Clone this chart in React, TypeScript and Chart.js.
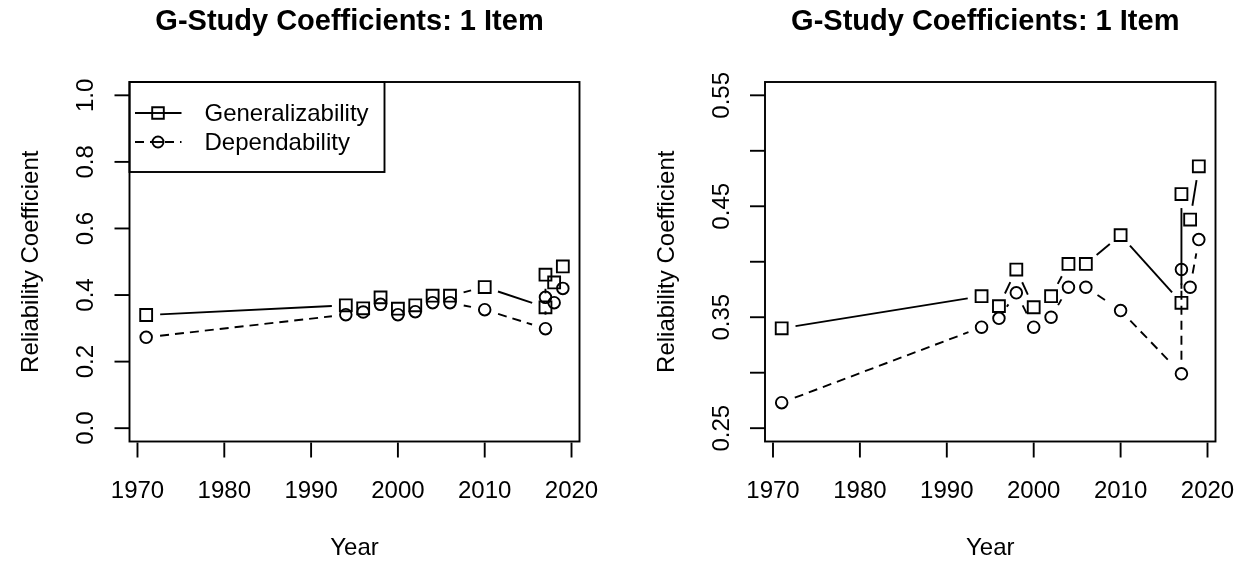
import React, { useEffect, useRef } from "react";
import { Chart, registerables } from "chart.js";

Chart.register(...registerables);

// ---- Data ----
const years = [1971, 1994, 1996, 1998, 2000, 2002, 2004, 2006, 2010, 2017, 2017, 2018, 2019];
const generalizability = [0.34, 0.369, 0.36, 0.393, 0.359, 0.369, 0.398, 0.398, 0.424, 0.363, 0.461, 0.438, 0.486];
const dependability = [0.273, 0.341, 0.349, 0.372, 0.341, 0.35, 0.377, 0.377, 0.356, 0.299, 0.393, 0.377, 0.42];

const seriesNames = ["Generalizability", "Dependability"];
const chartTitle = "G-Study Coefficients: 1 Item";
const xTitle = "Year";
const yTitle = "Reliability Coefficient";

const xTicks = [1970, 1980, 1990, 2000, 2010, 2020];
const xTickLabels = ["1970", "1980", "1990", "2000", "2010", "2020"];
const xLimits = [1969.08, 2020.92];

const leftYTicks = [0, 0.2, 0.4, 0.6, 0.8, 1.0];
const leftYTickLabels = ["0.0", "0.2", "0.4", "0.6", "0.8", "1.0"];
const leftYLimits = [-0.04, 1.04];

const rightYTicks = [0.25, 0.3, 0.35, 0.4, 0.45, 0.5, 0.55];
const rightYTickLabels = ["0.25", "", "0.35", "", "0.45", "", "0.55"];
const rightYLimits = [0.238, 0.562];

// ---- Styling ----
const FONT = '"Liberation Sans", Arial, Helvetica, sans-serif';
const LW = 1.9;
const GAP = 14;
const DASHES = [[], [9, 6]];
const LABEL_PX = 24;

type PanelCfg = {
  yTicks: number[];
  yTickLabels: string[];
  yLimits: number[];
  legend: boolean;
  pad: { left: number; right: number; top: number; bottom: number };
};

function makePlugin(cfg: PanelCfg) {
  return {
    id: "rbase",
    beforeDatasetsDraw(chart: any) {
      const ctx = chart.ctx;
      chart.data.datasets.forEach((_ds: any, i: number) => {
        const pts = chart.getDatasetMeta(i).data;
        ctx.save();
        ctx.strokeStyle = "#000";
        ctx.lineWidth = LW;
        ctx.setLineDash(DASHES[i]);
        for (let j = 0; j < pts.length - 1; j++) {
          const a = pts[j];
          const b = pts[j + 1];
          const dx = b.x - a.x;
          const dy = b.y - a.y;
          const L = Math.hypot(dx, dy);
          if (L <= 2 * GAP) continue;
          const ux = dx / L;
          const uy = dy / L;
          ctx.beginPath();
          ctx.moveTo(a.x + ux * GAP, a.y + uy * GAP);
          ctx.lineTo(b.x - ux * GAP, b.y - uy * GAP);
          ctx.stroke();
        }
        ctx.restore();
      });
    },
    afterDraw(chart: any) {
      const ctx = chart.ctx;
      const area = chart.chartArea;
      const xs = chart.scales.x;
      const ys = chart.scales.y;
      ctx.save();
      ctx.strokeStyle = "#000";
      ctx.fillStyle = "#000";
      ctx.lineWidth = LW;
      ctx.setLineDash([]);
      // box
      ctx.strokeRect(area.left, area.top, area.right - area.left, area.bottom - area.top);
      // x axis
      ctx.font = `${LABEL_PX}px ${FONT}`;
      ctx.textAlign = "center";
      ctx.textBaseline = "middle";
      xTicks.forEach((v, i) => {
        const px = xs.getPixelForValue(v);
        ctx.beginPath();
        ctx.moveTo(px, area.bottom + 1);
        ctx.lineTo(px, area.bottom + 16);
        ctx.stroke();
        ctx.fillText(xTickLabels[i], px, area.bottom + 50);
      });
      ctx.fillText(xTitle, (area.left + area.right) / 2, area.bottom + 107);
      // y axis
      cfg.yTicks.forEach((v, i) => {
        const py = ys.getPixelForValue(v);
        ctx.beginPath();
        ctx.moveTo(area.left, py);
        ctx.lineTo(area.left - 15, py);
        ctx.stroke();
        const lab = cfg.yTickLabels[i];
        if (lab) {
          ctx.save();
          ctx.translate(area.left - 43, py);
          ctx.rotate(-Math.PI / 2);
          ctx.fillText(lab, 0, 0);
          ctx.restore();
        }
      });
      ctx.save();
      ctx.translate(area.left - 98, (area.top + area.bottom) / 2);
      ctx.rotate(-Math.PI / 2);
      ctx.fillText(yTitle, 0, 0);
      ctx.restore();
      // title
      ctx.font = `bold 29px ${FONT}`;
      ctx.fillText(chartTitle, (area.left + area.right) / 2 - 5, 22);
      // legend
      if (cfg.legend) {
        const lx = area.left;
        const ly = area.top;
        ctx.strokeRect(lx, ly, 255, 90);
        ctx.font = `${LABEL_PX}px ${FONT}`;
        ctx.textAlign = "left";
        const rows = [31, 60];
        rows.forEach((ry, i) => {
          const y = ly + ry;
          ctx.save();
          ctx.setLineDash(DASHES[i]);
          ctx.beginPath();
          ctx.moveTo(lx + 5.5, y);
          ctx.lineTo(lx + 52, y);
          ctx.stroke();
          ctx.restore();
          const cx = lx + 28.5;
          ctx.beginPath();
          if (i === 0) {
            ctx.rect(cx - 5.8, y - 5.8, 11.6, 11.6);
          } else {
            ctx.arc(cx, y, 5.5, 0, Math.PI * 2);
          }
          ctx.fillStyle = "#fff";
          ctx.fill();
          ctx.stroke();
          ctx.beginPath();
          ctx.moveTo(cx - 5.6, y);
          ctx.lineTo(cx + 5.6, y);
          ctx.stroke();
          ctx.fillStyle = "#000";
          ctx.fillText(seriesNames[i], lx + 75, y + 1);
        });
      }
      ctx.restore();
    },
  };
}

function Panel({ cfg, left }: { cfg: PanelCfg; left: number }) {
  const ref = useRef<HTMLCanvasElement>(null);
  useEffect(() => {
    if (!ref.current) return;
    const chart = new Chart(ref.current, {
      type: "scatter",
      data: {
        datasets: [
          {
            label: seriesNames[0],
            data: years.map((yr, i) => ({ x: yr, y: generalizability[i] })),
            pointStyle: "rect",
            pointRadius: 8.4,
            pointBorderWidth: LW,
            pointBorderColor: "#000",
            pointBackgroundColor: "rgba(0,0,0,0)",
            showLine: false,
          },
          {
            label: seriesNames[1],
            data: years.map((yr, i) => ({ x: yr, y: dependability[i] })),
            pointStyle: "circle",
            pointRadius: 5.8,
            pointBorderWidth: LW,
            pointBorderColor: "#000",
            pointBackgroundColor: "rgba(0,0,0,0)",
            showLine: false,
          },
        ],
      },
      options: {
        animation: false,
        responsive: false,
        layout: { padding: cfg.pad },
        plugins: { legend: { display: false }, tooltip: { enabled: false }, title: { display: false } },
        scales: {
          x: { type: "linear", min: xLimits[0], max: xLimits[1], display: false },
          y: { type: "linear", min: cfg.yLimits[0], max: cfg.yLimits[1], display: false },
        },
      },
      plugins: [makePlugin(cfg)],
    } as any);
    return () => chart.destroy();
  }, []);
  return (
    <canvas
      ref={ref}
      width={622}
      height={562}
      style={{ position: "absolute", left, top: 0, width: 622, height: 562 }}
    />
  );
}

const leftCfg: PanelCfg = {
  yTicks: leftYTicks,
  yTickLabels: leftYTickLabels,
  yLimits: leftYLimits,
  legend: true,
  pad: { left: 129.5, right: 42.5, top: 82, bottom: 120.5 },
};
const rightCfg: PanelCfg = {
  yTicks: rightYTicks,
  yTickLabels: rightYTickLabels,
  yLimits: rightYLimits,
  legend: false,
  pad: { left: 143, right: 28.5, top: 82, bottom: 120.5 },
};

export default function App() {
  return (
    <div style={{ position: "absolute", left: 0, top: 0, width: 1244, height: 562, background: "#fff" }}>
      <Panel cfg={leftCfg} left={0} />
      <Panel cfg={rightCfg} left={622} />
    </div>
  );
}
